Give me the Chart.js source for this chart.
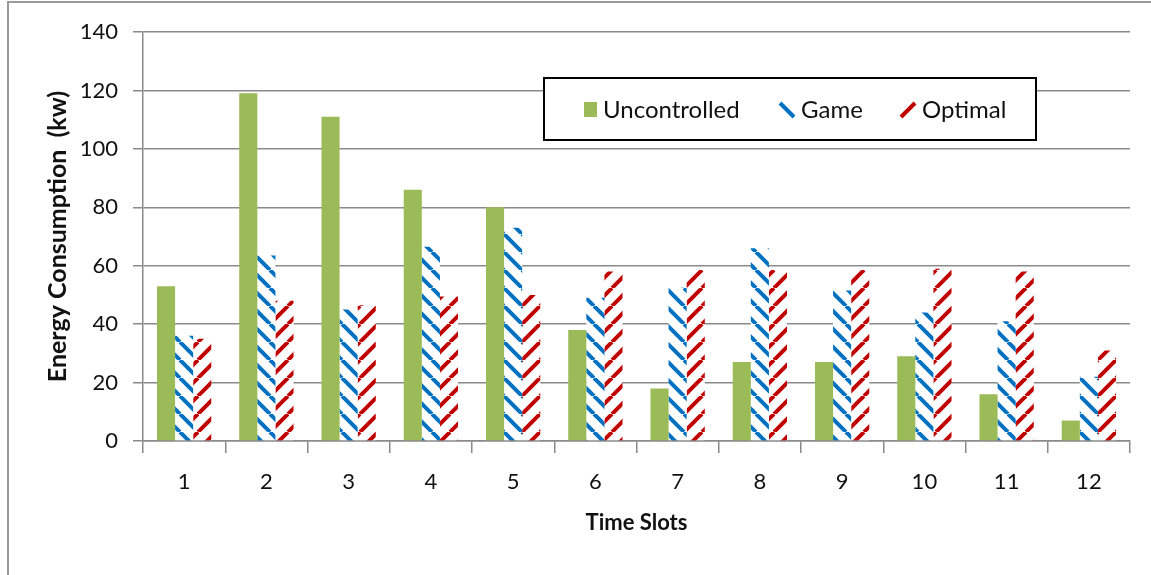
<!DOCTYPE html>
<html>
<head>
  <title>Energy Consumption per Time Slot</title>
  <script src="https://cdn.jsdelivr.net/npm/chart.js"></script>
  <style>
    body { margin: 0; background: #fff; }
  </style>
</head>
<body>
  <canvas id="energyChart" width="1151" height="575"></canvas>

  <script>
    const timeSlots = ["1", "2", "3", "4", "5", "6", "7", "8", "9", "10", "11", "12"];
    const uncontrolled = [53, 119, 111, 86, 80, 38, 18, 27, 27, 29, 16, 7];
    const game = [36, 63.5, 45, 66.5, 73, 49, 52.5, 66, 51.5, 44, 41, 22];
    const optimal = [35, 48, 46.5, 49.5, 50, 58, 58.5, 58.5, 58.5, 59, 58, 31];
    const yTicks = [0, 20, 40, 60, 80, 100, 120, 140];

    const FONT = "Lato, 'Open Sans', sans-serif";
    const GREEN = "#9bbb59", BLUE = "#0070c0", RED = "#c00000";

    // striped fill, dir 1 = "\" and dir -1 = "/"
    function stripes(color, dir) {
      const s = 18;
      const c = document.createElement("canvas");
      c.width = s; c.height = s;
      const g = c.getContext("2d");
      g.fillStyle = "#fff";
      g.fillRect(0, 0, s, s);
      g.strokeStyle = color;
      g.lineWidth = 4;
      for (const k of [-s, 0, s]) {
        g.beginPath();
        if (dir > 0) { g.moveTo(k, 0); g.lineTo(k + s, s); }
        else { g.moveTo(k, s); g.lineTo(k + s, 0); }
        g.stroke();
      }
      return g.createPattern(c, "repeat");
    }

    const ctx = document.getElementById("energyChart").getContext("2d");

    const framePlugin = {
      id: "frame",
      beforeDraw(chart) {
        const c = chart.ctx;
        c.save();
        c.strokeStyle = "#9a9a9a";
        c.lineWidth = 2;
        c.beginPath();
        c.moveTo(8, 575);
        c.lineTo(8, 2);
        c.lineTo(1151, 2);
        c.stroke();
        c.restore();
      }
    };

    // legend box sitting inside the plot, like the original
    const boxLegend = {
      id: "boxLegend",
      afterDraw(chart) {
        const c = chart.ctx;
        const box = { x: 544, y: 78, w: 492, h: 62 };
        const items = [{ mx: 584, tx: 603 }, { mx: 780, tx: 801 }, { mx: 901, tx: 922 }];
        c.save();
        c.fillStyle = "#fff";
        c.fillRect(box.x, box.y, box.w, box.h);
        c.strokeStyle = "#000";
        c.lineWidth = 2;
        c.strokeRect(box.x, box.y, box.w, box.h);
        const cy = box.y + box.h / 2 + 1;
        chart.data.datasets.forEach((ds, i) => {
          const it = items[i];
          c.fillStyle = ds.legendColor;
          c.strokeStyle = ds.legendColor;
          c.lineWidth = 4;
          if (i === 0) {
            c.fillRect(it.mx, cy - 8, 13, 15);
          } else if (i === 1) {
            c.beginPath(); c.moveTo(it.mx, cy - 7); c.lineTo(it.mx + 14, cy + 7); c.stroke();
          } else {
            c.beginPath(); c.moveTo(it.mx, cy + 7); c.lineTo(it.mx + 14, cy - 7); c.stroke();
          }
          c.fillStyle = "#111";
          c.font = "24px " + FONT;
          c.textBaseline = "middle";
          c.fillText(ds.label, it.tx, cy);
        });
        c.restore();
      }
    };

    new Chart(ctx, {
      type: "bar",
      data: {
        labels: timeSlots,
        datasets: [
          { label: "Uncontrolled", data: uncontrolled, backgroundColor: GREEN, legendColor: GREEN },
          { label: "Game", data: game, backgroundColor: stripes(BLUE, 1), legendColor: BLUE },
          { label: "Optimal", data: optimal, backgroundColor: stripes(RED, -1), legendColor: RED },
        ],
      },
      options: {
        responsive: false,
        animation: false,
        layout: { padding: { left: 0, top: 32, right: 21, bottom: 0 } },
        datasets: { bar: { categoryPercentage: 0.66, barPercentage: 1.0, borderWidth: 0 } },
        plugins: { legend: { display: false }, tooltip: { enabled: false } },
        scales: {
          x: {
            grid: { drawOnChartArea: false, drawTicks: true, tickLength: 12, color: "#8a8a8a", lineWidth: 1.5 },
            border: { color: "#8a8a8a", width: 1.5 },
            ticks: { color: "#111", padding: 16, font: { family: FONT, size: 22 } },
            title: {
              display: true, text: "Time Slots", color: "#111",
              font: { family: FONT, size: 22, weight: "bold" }, padding: { top: 0, bottom: 39 },
            },
            afterFit(scale) { scale.height = 134; },
          },
          y: {
            min: 0, max: 140,
            afterBuildTicks(scale) { scale.ticks = yTicks.map(v => ({ value: v })); },
            grid: { color: "#8a8a8a", lineWidth: 1.5, tickLength: 10 },
            border: { color: "#8a8a8a", width: 1.5 },
            ticks: { color: "#111", padding: 15, font: { family: FONT, size: 22 } },
            title: {
              display: true, text: "Energy Consumption  (kw)", color: "#111",
              font: { family: FONT, size: 25, weight: "bold" }, padding: { top: 43, bottom: 0 },
            },
            afterFit(scale) { scale.width = 143; },
          },
        },
      },
      plugins: [framePlugin, boxLegend],
    });
  </script>
</body>
</html>
